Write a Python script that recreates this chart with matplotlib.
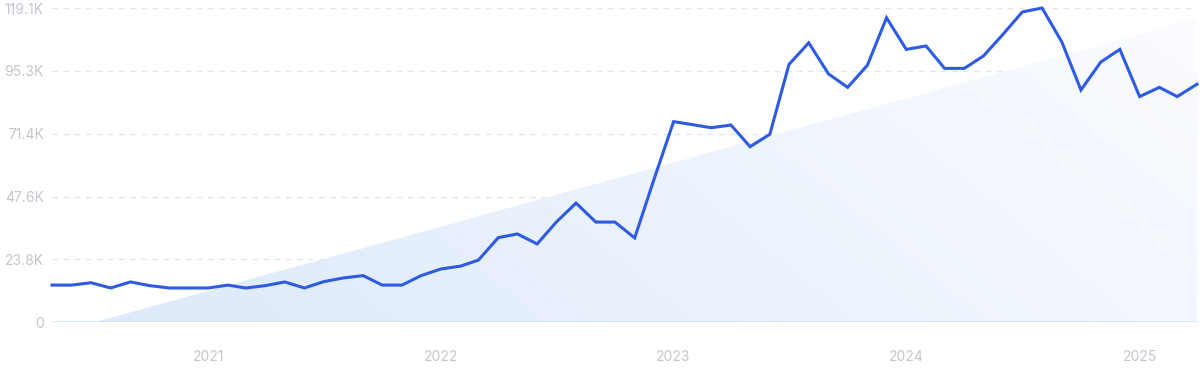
import matplotlib
matplotlib.use('agg')
import matplotlib.pyplot as plt
import matplotlib.dates as mdates
import numpy as np
import pandas as pd

plt.rcParams['font.family'] = ['Inter', 'DejaVu Sans']

months = pd.date_range('2020-05-01', periods=60, freq='MS')
volume = [14.0, 14.0, 14.9, 12.9, 15.2, 13.8, 12.9, 12.9, 12.9, 14.0,
          12.9, 13.8, 15.2, 12.9, 15.3, 16.7, 17.6, 14.0, 14.0, 17.6,
          20.1, 21.2, 23.5, 32.0, 33.4, 29.6, 37.9, 45.1, 37.9, 37.9,
          31.9, 53.9, 76.0, 74.8, 73.7, 74.7, 66.5, 71.2, 97.7, 105.9,
          94.1, 89.0, 97.4, 115.4, 103.4, 104.7, 96.2, 96.2, 100.9, 109.2,
          117.6, 119.1, 106.2, 88.0, 98.6, 103.4, 85.5, 89.0, 85.5, 90.2]
volume = np.array(volume) * 1000
y_ticks = [0, 23800, 47600, 71400, 95300, 119100]
y_labels = ['0', '23.8K', '47.6K', '71.4K', '95.3K', '119.1K']
year_ticks = ['2021', '2022', '2023', '2024', '2025']

fig = plt.figure(figsize=(12, 3.71), dpi=100)
ax = fig.add_axes([52 / 1200, 1 - 322 / 371, 1145 / 1200, 314 / 371])

x = mdates.date2num(months)
idx = np.arange(len(volume))
slope, icept = np.polyfit(idx, volume, 1)
trend = np.clip(slope * idx + icept, 0, None)
# start the triangle where the trend crosses zero
x0 = -icept / slope
x_start = np.interp(x0, idx, x)
tx = np.concatenate([[x_start], x[idx > x0]])
ty = np.concatenate([[0], trend[idx > x0]])

poly = ax.fill_between(tx, 0, ty, color='none', lw=0)
# gradient image, clipped to the trend triangle
gx, gy = np.meshgrid(np.linspace(0, 1, 300), np.linspace(0, 1, 100))
g = np.clip(0.75 * gx + 0.25 * (1 - gy), 0, 1)
c0 = np.array([0xdc, 0xe9, 0xfa]) / 255
c1 = np.array([0xfb, 0xfc, 0xff]) / 255
img = c0[None, None, :] * (1 - g[..., None]) + c1[None, None, :] * g[..., None]
im = ax.imshow(img, extent=[x[0], x[-1], 0, 119100], origin='upper',
               aspect='auto', zorder=1)
im.set_clip_path(poly.get_paths()[0], transform=ax.transData)

for yt in y_ticks[1:]:
    ax.axhline(yt, color='#dce6f2', lw=1, ls=(0, (4, 4)), zorder=0)
ax.axhline(0, color='#cfe5f8', lw=1.2, zorder=2)

ax.plot(x, volume, color='#2d5be3', lw=2.2, zorder=3, clip_on=False,
        solid_joinstyle='miter')

ax.set_xlim(x[0], x[-1])
ax.set_ylim(0, 119100)
ax.set_yticks(y_ticks)
ax.set_yticklabels(y_labels)
ax.set_xticks([mdates.date2num(pd.Timestamp(f'{y}-01-01')) for y in year_ticks])
ax.set_xticklabels(year_ticks)
ax.tick_params(axis='both', length=0, labelsize=10, labelcolor='#c4c6cf')
ax.tick_params(axis='y', pad=6)
ax.tick_params(axis='x', pad=20)
for s in ax.spines.values():
    s.set_visible(False)

plt.savefig('out.png', dpi=100)
